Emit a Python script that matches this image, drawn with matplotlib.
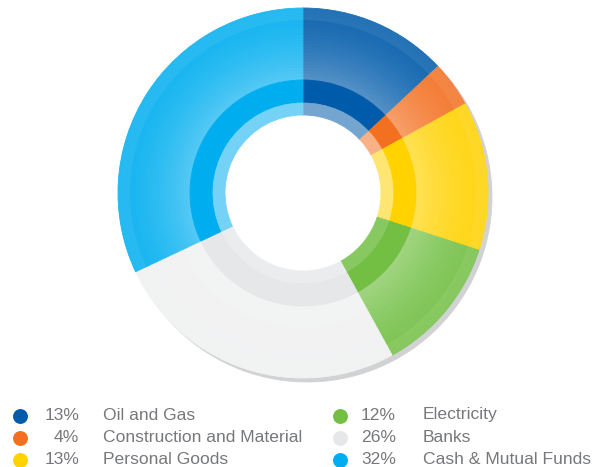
import numpy as np
import matplotlib.pyplot as plt
from matplotlib.colors import to_rgb

# sector shares, clockwise from 12 o'clock
labels = ["Oil and Gas", "Construction and Material", "Personal Goods",
          "Electricity", "Banks", "Cash & Mutual Funds"]
shares = [13, 4, 13, 12, 26, 32]
pct_text = ["13%", "4%", "13%", "12%", "26%", "32%"]
base_colors = ["#005BAA", "#F37021", "#FFD200", "#72BF44", "#E6E7E8", "#00AEEF"]


def tint(c, f):
    """mix colour c with white by fraction f"""
    r = np.array(to_rgb(c))
    return tuple(r + (1 - r) * f)


W, H = 603, 467
fig = plt.figure(figsize=(W / 100, H / 100), dpi=100)
ax = fig.add_axes([0, 0, 1, 1])

cx, cy = 303, H - 193
R_out, R_mid, R_band, R_hole = 185, 113, 90, 78


def ring(radius, width, colors, center=(cx, cy)):
    wedges, _ = ax.pie(shares, colors=colors, radius=radius, center=center,
                       startangle=90, counterclock=False,
                       wedgeprops=dict(width=width, linewidth=0.6))
    for w in wedges:
        w.set_edgecolor(w.get_facecolor())
    return wedges


# drop shadow (narrow, so it stays hidden behind the bands inside)
ring(R_out, 50, ["#D1D2D4"] * len(shares), center=(cx + 4, cy - 4))

# outer band: radial gradient, lighter toward the hole
steps = 24
radii = np.linspace(R_out, R_mid, steps + 1)
for i in range(steps):
    t = (i / (steps - 1)) ** 1.5
    f = 0.08 + 0.24 * t
    cols = [tint(c, f if c != "#E6E7E8" else 0.45 + 0.05 * t) for c in base_colors]
    ring(radii[i], radii[i] - radii[i + 1], cols)

# thin rim highlight
rim = ring(R_out, 12, ["white"] * len(shares))
for w in rim:
    w.set_alpha(0.07)
    w.set_edgecolor("none")

# solid middle band
ring(R_mid, R_mid - R_band, base_colors)

# pale inner band
inner_cols = [tint(c, 0.45) for c in base_colors]
inner_cols[3] = tint(base_colors[3], 0.15)
inner_cols[4] = tint(base_colors[4], 0.2)
ring(R_band, R_band - R_hole, inner_cols)

# legend
txt_col = "#76787B"
col_x = [(20, 79, 103), (340, 396, 423)]
row_y = [415, 437, 459]
for i, (lab, pct, c) in enumerate(zip(labels, pct_text, base_colors)):
    dx, px, lx = col_x[i // 3]
    y = H - row_y[i % 3]
    ax.scatter([dx], [y - 0.5], s=115, color=c, linewidths=0, zorder=5)
    ax.text(px, y, pct, ha="right", va="center", fontsize=12.6,
            color=txt_col, family="Liberation Sans")
    ax.text(lx, y, lab, ha="left", va="center", fontsize=12.6,
            color=txt_col, family="Liberation Sans")

ax.set_xlim(0, W)
ax.set_ylim(0, H)
ax.set_aspect("equal")
ax.axis("off")

fig.savefig("out.png", dpi=100)
